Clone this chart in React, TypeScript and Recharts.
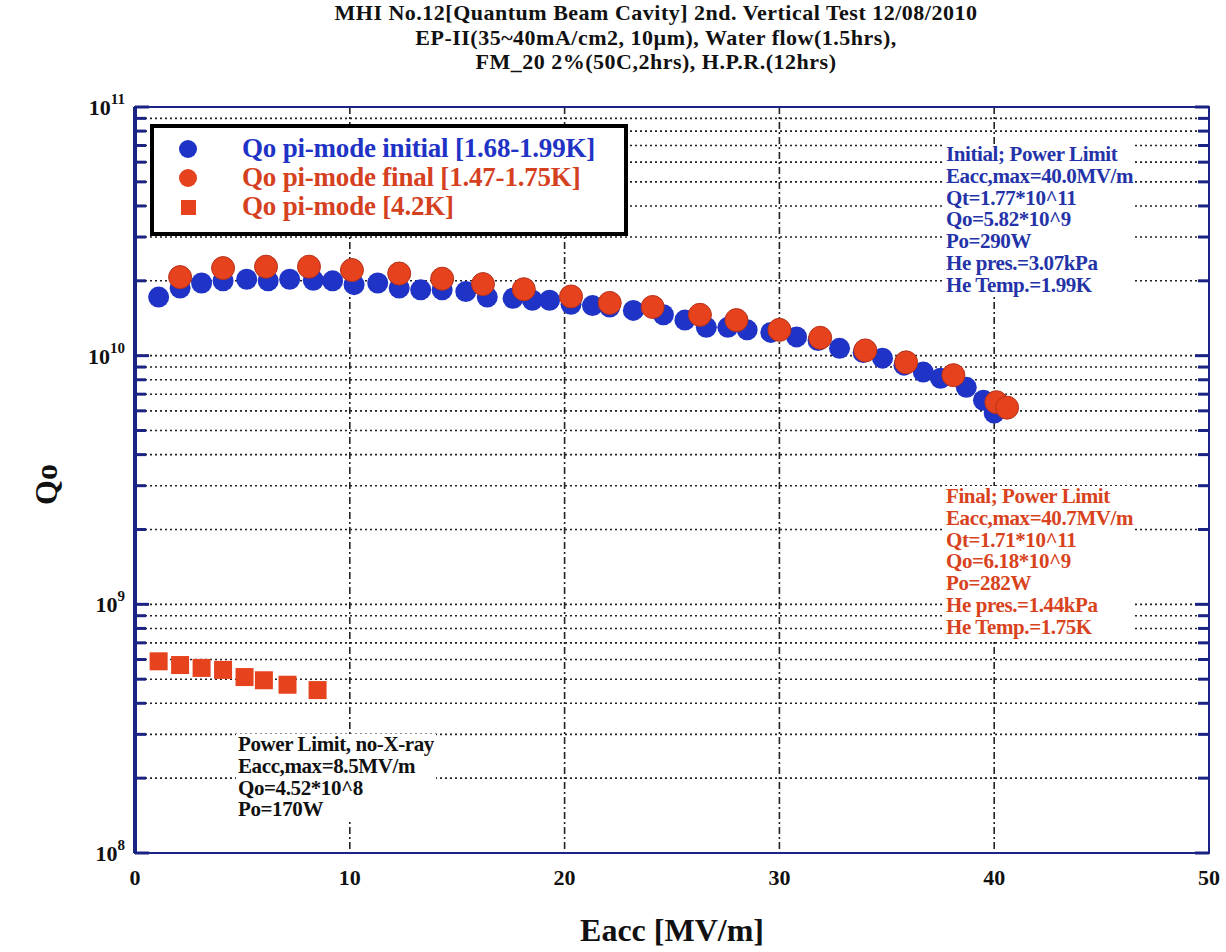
import React from "react";
import {
	CartesianGrid,
	ReferenceArea,
	Scatter,
	ScatterChart,
	XAxis,
	YAxis,
} from "recharts";

// Qo vs Eacc, pi-mode, initial run (1.68-1.99K)
const initialEacc = [
	1.1, 2.1, 3.1, 4.1, 5.2, 6.2, 7.2, 8.3, 9.2, 10.2, 11.3, 12.3, 13.3, 14.3,
	15.4, 16.4, 17.6, 18.5, 19.3, 20.3, 21.3, 22.1, 23.2, 24.6, 25.6, 26.6, 27.6,
	28.5, 29.6, 30.8, 31.8, 32.8, 33.9, 34.8, 35.8, 36.7, 37.5, 38.7, 39.5, 40.0,
];
const initialQo = [
	1.72e10, 1.87e10, 1.96e10, 2.0e10, 2.03e10, 2.0e10, 2.03e10, 2.01e10, 2.0e10,
	1.93e10, 1.96e10, 1.87e10, 1.84e10, 1.84e10, 1.81e10, 1.72e10, 1.7e10,
	1.67e10, 1.67e10, 1.61e10, 1.59e10, 1.57e10, 1.52e10, 1.46e10, 1.39e10,
	1.3e10, 1.3e10, 1.27e10, 1.24e10, 1.19e10, 1.15e10, 1.07e10, 1.03e10,
	9.77e9, 9.16e9, 8.59e9, 8.11e9, 7.46e9, 6.62e9, 5.88e9,
];

// final run (1.47-1.75K)
const finalEacc = [
	2.1, 4.1, 6.1, 8.1, 10.1, 12.3, 14.3, 16.2, 18.1, 20.3, 22.1, 24.1, 26.3,
	28.0, 30.0, 31.9, 34.0, 35.9, 38.1, 40.1, 40.6,
];
const finalQo = [
	2.07e10, 2.25e10, 2.28e10, 2.28e10, 2.21e10, 2.14e10, 2.04e10, 1.94e10,
	1.85e10, 1.73e10, 1.63e10, 1.57e10, 1.46e10, 1.39e10, 1.27e10, 1.18e10,
	1.05e10, 9.4e9, 8.35e9, 6.5e9, 6.18e9,
];

// 4.2K
const warmEacc = [1.1, 2.1, 3.1, 4.1, 5.1, 6.0, 7.1, 8.5];
const warmQo = [5.9e8, 5.7e8, 5.55e8, 5.45e8, 5.1e8, 4.95e8, 4.75e8, 4.52e8];

const xTicks = [0, 10, 20, 30, 40, 50];
const xGrid = [10, 20, 30, 40];
const yMajor = [1e8, 1e9, 1e10, 1e11];
const yMinorMult = [2, 3, 4, 5, 6, 7, 8, 9];
const yDecades = [1e8, 1e9, 1e10];

const yMinor = yDecades.flatMap((d) => yMinorMult.map((m) => m * d));
const yAllTicks = [...yMajor, ...yMinor].sort((a, b) => a - b);
const yGrid = [...yMinor, 1e9, 1e10];

const toPoints = (xs: number[], ys: number[]) =>
	xs.map((x, i) => ({ x, y: ys[i] }));

const NAVY = "#1b2384";
const BLUE = "#1f33c6";
const RED = "#e5421d";
const RED_EDGE = "#b5321c";
const SERIF = '"Liberation Serif", "DejaVu Serif", serif';

const blueDot = (p: any) => (
	<circle cx={p.cx} cy={p.cy} r={10.5} fill={BLUE} />
);
const redDot = (p: any) => (
	<circle cx={p.cx} cy={p.cy} r={11.5} fill={RED} stroke={RED_EDGE} strokeWidth={1} />
);
const redSquare = (p: any) => (
	<rect x={p.cx - 9} y={p.cy - 9} width={18} height={18} fill={RED} />
);

const isMajor = (v: number) => yMajor.includes(v);

const leftTick = (p: any) => {
	const v = p.payload.value;
	const major = isMajor(v);
	const exp = Math.round(Math.log10(v));
	return (
		<g>
			<line x1={p.x} x2={p.x + (major ? 14 : 11)} y1={p.y} y2={p.y} stroke={NAVY} strokeWidth={3} />
			{major && (
				<text
					x={p.x - 10}
					y={p.y + 8}
					textAnchor="end"
					fontFamily={SERIF}
					fontWeight="bold"
					fontSize={22}
					fill="#111"
				>
					10
					<tspan dy={-11} fontSize={15}>
						{exp}
					</tspan>
				</text>
			)}
		</g>
	);
};

const rightTick = (p: any) => {
	const v = p.payload.value;
	const major = isMajor(v);
	return (
		<line x1={p.x} x2={p.x - (major ? 14 : 11)} y1={p.y} y2={p.y} stroke={NAVY} strokeWidth={3} />
	);
};

const xTick = (p: any) => (
	<text
		x={p.x}
		y={p.y + 32}
		textAnchor="middle"
		fontFamily={SERIF}
		fontWeight="bold"
		fontSize={22}
		fill="#111"
	>
		{p.payload.value}
	</text>
);

const noteStyle: React.CSSProperties = {
	position: "absolute",
	background: "#fff",
	fontFamily: SERIF,
	fontWeight: "bold",
	fontSize: 21,
	lineHeight: "21.8px",
	letterSpacing: -0.4,
	whiteSpace: "nowrap",
	padding: "0 2px",
};

export default function App() {
	const initial = toPoints(initialEacc, initialQo);
	const final = toPoints(finalEacc, finalQo);
	const warm = toPoints(warmEacc, warmQo);

	return (
		<div
			style={{
				position: "absolute",
				left: 0,
				top: 0,
				width: 1226,
				height: 952,
				background: "#fff",
				fontFamily: SERIF,
			}}
		>
			<div
				style={{
					position: "absolute",
					left: 0,
					top: 1,
					width: 1312,
					textAlign: "center",
					fontWeight: "bold",
					fontSize: 22,
					lineHeight: "24.5px",
					letterSpacing: 0.5,
					color: "#111",
				}}
			>
				<div>MHI No.12[Quantum Beam Cavity] 2nd. Vertical Test 12/08/2010</div>
				<div>EP-II(35~40mA/cm2, 10µm), Water flow(1.5hrs),</div>
				<div>FM_20 2%(50C,2hrs), H.P.R.(12hrs)</div>
			</div>

			<ScatterChart
				width={1226}
				height={952}
				margin={{ top: 107, right: 7, bottom: 59, left: 75 }}
			>
				<CartesianGrid
					vertical={false}
					horizontalValues={yGrid}
					stroke="#222"
					strokeWidth={1.6}
					strokeDasharray="2 3"
				/>
				<CartesianGrid
					horizontal={false}
					verticalValues={xGrid}
					stroke="#222"
					strokeWidth={1.6}
					strokeDasharray="7 3 2 3"
				/>
				<XAxis
					type="number"
					dataKey="x"
					domain={[0, 50]}
					ticks={xTicks}
					interval={0}
					height={40}
					tickSize={0}
					tickMargin={0}
					tickLine={false}
					tick={xTick}
					axisLine={{ stroke: NAVY, strokeWidth: 2 }}
					allowDataOverflow
				/>
				<YAxis
					type="number"
					dataKey="y"
					scale="log"
					domain={[1e8, 1e11]}
					ticks={yAllTicks}
					interval={0}
					width={60}
					tickSize={0}
					tickMargin={0}
					tickLine={false}
					tick={leftTick}
					axisLine={{ stroke: NAVY, strokeWidth: 4 }}
					allowDataOverflow
				/>
				<YAxis
					yAxisId="right"
					orientation="right"
					type="number"
					scale="log"
					domain={[1e8, 1e11]}
					ticks={yAllTicks}
					interval={0}
					width={10}
					tickSize={0}
					tickMargin={0}
					tickLine={false}
					tick={rightTick}
					axisLine={{ stroke: NAVY, strokeWidth: 2 }}
					allowDataOverflow
				/>
				<ReferenceArea
					x1={0}
					x2={50}
					y1={1e8}
					y2={1e11}
					fill="none"
					stroke={NAVY}
					strokeWidth={2}
					fillOpacity={0}
				/>
				<Scatter data={initial} shape={blueDot} isAnimationActive={false} />
				<Scatter data={final} shape={redDot} isAnimationActive={false} />
				<Scatter data={warm} shape={redSquare} isAnimationActive={false} />
			</ScatterChart>

			{/* legend */}
			<div
				style={{
					position: "absolute",
					left: 150,
					top: 124,
					width: 470,
					height: 104,
					border: "4px solid #000",
					background: "#fff",
					fontWeight: "bold",
					fontSize: 27,
					letterSpacing: -0.2,
					whiteSpace: "nowrap",
				}}
			>
				{[
					{ label: "Qo pi-mode initial [1.68-1.99K]", color: BLUE, kind: "circle", fill: BLUE },
					{ label: "Qo pi-mode final [1.47-1.75K]", color: "#d5411f", kind: "circle", fill: RED },
					{ label: "Qo pi-mode [4.2K]", color: "#d5411f", kind: "square", fill: RED },
				].map((e, i) => (
					<div
						key={e.label}
						style={{
							position: "absolute",
							left: 0,
							top: 6 + i * 29,
							height: 29,
							display: "flex",
							alignItems: "center",
						}}
					>
						<svg width={88} height={28} style={{ flex: "none" }}>
							{e.kind === "circle" ? (
								<circle cx={34} cy={14} r={9} fill={e.fill} />
							) : (
								<rect x={27} y={7} width={15} height={15} fill={e.fill} />
							)}
						</svg>
						<span style={{ color: e.color }}>{e.label}</span>
					</div>
				))}
			</div>

			{/* annotations */}
			<div style={{ ...noteStyle, left: 944, top: 144, color: "#2433a8" }}>
				<div>Initial; Power Limit</div>
				<div>Eacc,max=40.0MV/m</div>
				<div>Qt=1.77*10^11</div>
				<div>Qo=5.82*10^9</div>
				<div>Po=290W</div>
				<div>He pres.=3.07kPa</div>
				<div>He Temp.=1.99K</div>
			</div>
			<div style={{ ...noteStyle, left: 944, top: 486, color: "#d8431d" }}>
				<div>Final; Power Limit</div>
				<div>Eacc,max=40.7MV/m</div>
				<div>Qt=1.71*10^11</div>
				<div>Qo=6.18*10^9</div>
				<div>Po=282W</div>
				<div>He pres.=1.44kPa</div>
				<div>He Temp.=1.75K</div>
			</div>
			<div style={{ ...noteStyle, left: 236, top: 734, color: "#111" }}>
				<div>Power Limit, no-X-ray</div>
				<div>Eacc,max=8.5MV/m</div>
				<div>Qo=4.52*10^8</div>
				<div>Po=170W</div>
			</div>

			{/* axis titles */}
			<div
				style={{
					position: "absolute",
					left: 0,
					top: 912,
					width: 1344,
					textAlign: "center",
					fontSize: 32,
					fontWeight: "bold",
					color: "#111",
				}}
			>
				Eacc [MV/m]
			</div>
			<div
				style={{
					position: "absolute",
					left: 16,
					top: 466,
					width: 60,
					fontSize: 32,
					fontWeight: "bold",
					color: "#111",
					transform: "rotate(-90deg)",
					textAlign: "center",
				}}
			>
				Qo
			</div>
		</div>
	);
}
